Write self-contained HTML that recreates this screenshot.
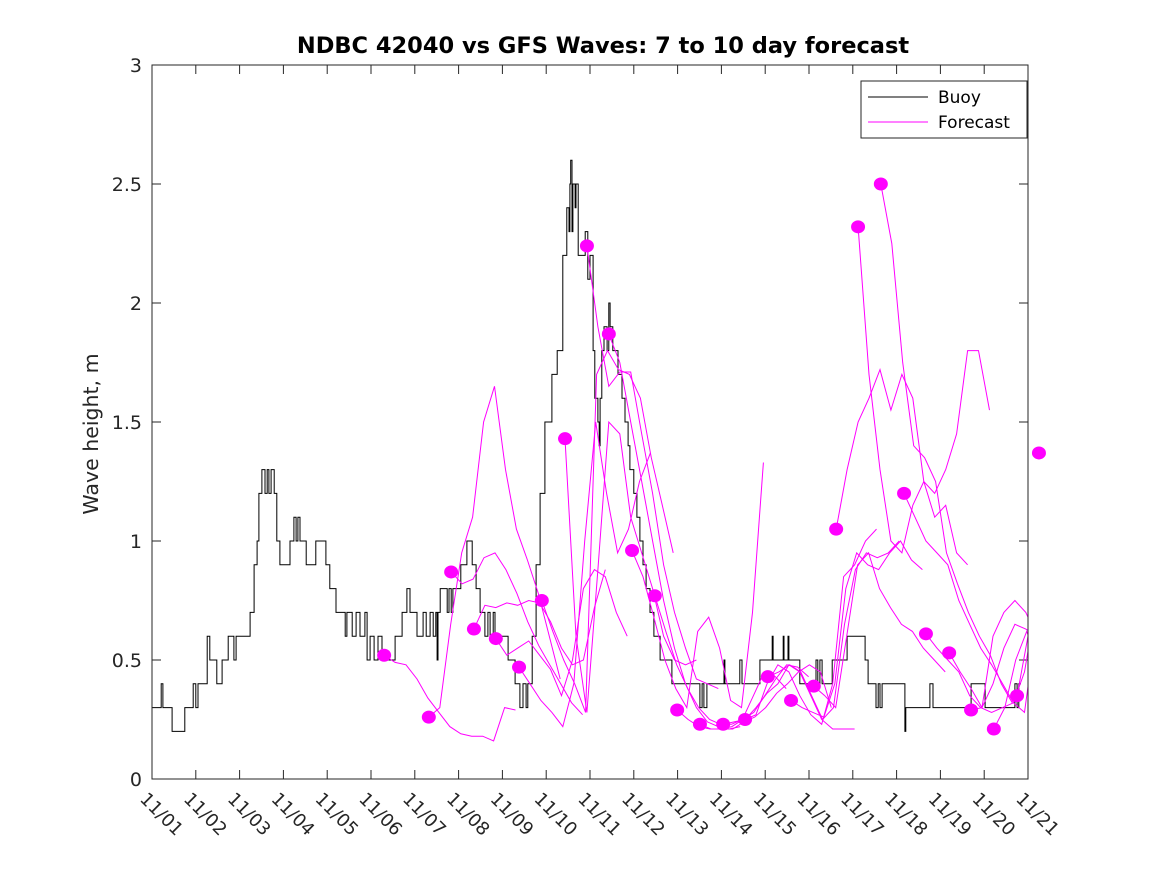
<!DOCTYPE html>
<html><head><meta charset="utf-8"><style>
body{margin:0;background:#fff}
svg{display:block;font-family:"DejaVu Sans","Liberation Sans",sans-serif}
</style></head><body>
<svg id="chart" width="1167" height="875" viewBox="0 0 1167 875" xmlns="http://www.w3.org/2000/svg">
<defs><clipPath id="plotclip"><rect x="152" y="65" width="876" height="714"/></clipPath></defs>
<rect x="0" y="0" width="1167" height="875" fill="#fff"/>
<text x="603" y="53" text-anchor="middle" font-size="22.5" font-weight="bold" fill="#000">NDBC 42040 vs GFS Waves: 7 to 10 day forecast</text>
<text x="0" y="0" transform="translate(98,434) rotate(-90)" text-anchor="middle" font-size="20.5" fill="#262626">Wave height, m</text>
<g id="axes"></g>
<g id="series" clip-path="url(#plotclip)"></g>
<g id="dots"></g>
<rect x="152" y="65" width="876" height="714" fill="none" stroke="#262626" stroke-width="1"/>
<g>
<rect x="861" y="81" width="166" height="57" fill="#fff" stroke="#262626" stroke-width="1"/>
<line x1="868" y1="97" x2="928" y2="97" stroke="#000" stroke-width="1"/>
<text x="938" y="103" font-size="17" fill="#000">Buoy</text>
<line x1="868" y1="122" x2="928" y2="122" stroke="#ff00ff" stroke-width="1"/>
<text x="938" y="128" font-size="17" fill="#000">Forecast</text>
</g>
</svg>
<script>
const xTickLabels=["11/01","11/02","11/03","11/04","11/05","11/06","11/07","11/08","11/09","11/10","11/11","11/12","11/13","11/14","11/15","11/16","11/17","11/18","11/19","11/20","11/21"];
const yTickValues=[0,0.5,1,1.5,2,2.5,3];
const yTickLabels=["0","0.5","1","1.5","2","2.5","3"];
const buoyDays=[0,0.21,0.25,0.46,0.75,0.94,1.0,1.05,1.26,1.32,1.48,1.6,1.74,1.87,1.92,2.24,2.33,2.40,2.44,2.51,2.58,2.63,2.67,2.72,2.79,2.85,2.92,3.15,3.24,3.29,3.33,3.38,3.52,3.74,3.97,4.06,4.20,4.41,4.45,4.57,4.66,4.75,4.86,4.91,4.98,5.07,5.16,5.25,5.55,5.71,5.82,5.89,6.05,6.19,6.26,6.35,6.42,6.48,6.51,6.53,6.58,6.74,6.78,6.83,6.87,7.05,7.19,7.31,7.40,7.49,7.60,7.67,7.72,7.79,7.83,8.13,8.29,8.40,8.47,8.54,8.58,8.68,8.77,8.86,8.97,9.13,9.25,9.38,9.47,9.52,9.54,9.56,9.59,9.61,9.66,9.68,9.73,9.89,9.95,10.0,10.07,10.11,10.18,10.21,10.23,10.27,10.32,10.39,10.43,10.46,10.52,10.64,10.73,10.80,10.87,10.91,11.0,11.07,11.14,11.21,11.28,11.37,11.46,11.60,11.87,12.51,12.56,12.60,12.67,13.06,13.08,13.42,13.47,13.88,14.16,14.18,14.41,14.43,14.52,14.54,14.79,15.16,15.2,15.25,15.3,15.53,15.87,16.28,16.35,16.53,16.58,16.62,16.67,17.19,17.21,17.76,17.83,18.70,19.02,19.70,19.75,19.79,19.84];
const buoyVals=[0.3,0.4,0.3,0.2,0.3,0.4,0.3,0.4,0.6,0.5,0.4,0.5,0.6,0.5,0.6,0.7,0.9,1.0,1.2,1.3,1.2,1.3,1.2,1.3,1.2,1.0,0.9,1.0,1.1,1.0,1.1,1.0,0.9,1.0,0.9,0.8,0.7,0.6,0.7,0.6,0.7,0.6,0.7,0.5,0.6,0.5,0.6,0.5,0.6,0.7,0.8,0.7,0.6,0.7,0.6,0.7,0.6,0.7,0.5,0.7,0.8,0.7,0.8,0.7,0.8,0.9,1.0,0.9,0.8,0.7,0.6,0.7,0.6,0.7,0.6,0.5,0.4,0.3,0.4,0.3,0.4,0.6,0.9,1.2,1.5,1.7,1.8,2.2,2.4,2.3,2.5,2.6,2.3,2.5,2.4,2.5,2.2,2.3,2.1,2.2,1.8,1.6,1.5,1.4,1.6,1.8,1.9,1.8,2.0,1.9,1.8,1.7,1.6,1.5,1.4,1.3,1.2,1.1,1.0,0.9,0.8,0.7,0.6,0.5,0.4,0.3,0.4,0.3,0.4,0.5,0.4,0.5,0.4,0.5,0.6,0.5,0.6,0.5,0.6,0.5,0.4,0.5,0.4,0.5,0.4,0.5,0.6,0.5,0.4,0.3,0.4,0.3,0.4,0.2,0.3,0.4,0.3,0.4,0.3,0.4,0.3,0.4,0.4];
const forecastStarts=[5.30,6.32,6.83,7.35,7.85,8.38,8.90,9.43,9.93,10.43,10.96,11.48,11.99,12.51,13.04,13.54,14.06,14.59,15.11,15.62,16.12,16.64,17.17,17.67,18.20,18.70,19.22,19.75,20.25];
const forecastStep=0.25;
const forecastVals=[
[0.52,0.49,0.48,0.42,0.34,0.28,0.22,0.19,0.18,0.18,0.16,0.30,0.29],
[0.26,0.30,0.65,0.95,1.10,1.50,1.65,1.30,1.05,0.92,0.78,0.60,0.42],
[0.87,0.82,0.84,0.93,0.95,0.88,0.78,0.66,0.56,0.48,0.40,0.32,0.27],
[0.63,0.73,0.72,0.74,0.73,0.75,0.74,0.66,0.55,0.48,0.50,0.72,0.88],
[0.59,0.52,0.55,0.58,0.52,0.46,0.35,0.50,0.80,0.88,0.85,0.70,0.60],
[0.47,0.40,0.33,0.28,0.22,0.40,1.00,1.50,1.20,0.95,1.05,1.25,1.37],
[0.75,0.62,0.50,0.40,0.28,1.70,1.80,1.72,1.70,1.60,1.35,1.15,0.95],
[1.43,0.60,0.28,0.88,1.50,1.45,1.10,0.95,0.80,0.60,0.50,0.48,0.50],
[2.24,1.90,1.65,1.71,1.71,1.45,1.20,0.90,0.70,0.55,0.42,0.40,0.38],
[1.87,1.75,1.50,1.25,1.00,0.75,0.55,0.40,0.30,0.24,0.22,0.21,0.22],
[0.96,0.85,0.68,0.50,0.38,0.30,0.62,0.68,0.55,0.33,0.30,0.70,1.33],
[0.77,0.62,0.48,0.38,0.30,0.25,0.23,0.23,0.25,0.35,0.45,0.43,0.38],
[0.29,0.25,0.22,0.21,0.21,0.22,0.25,0.28,0.35,0.42,0.48,0.47,0.43],
[0.23,0.21,0.21,0.21,0.24,0.26,0.30,0.36,0.40,0.45,0.48,0.45,0.30],
[0.23,0.24,0.25,0.30,0.36,0.40,0.48,0.45,0.35,0.25,0.21,0.21,0.21],
[0.25,0.27,0.40,0.48,0.45,0.35,0.27,0.23,0.40,0.85,0.90,1.00,1.05],
[0.43,0.45,0.48,0.45,0.35,0.25,0.30,0.65,0.88,0.95,0.93,0.95,1.00],
[0.33,0.30,0.28,0.26,0.40,0.80,0.95,0.90,0.88,0.95,1.00,0.92,0.88],
[0.39,0.35,0.30,0.60,0.90,0.95,0.80,0.72,0.65,0.62,0.55,0.50,0.45],
[1.05,1.30,1.50,1.60,1.72,1.55,1.70,1.60,1.25,1.10,1.15,0.95,0.90],
[2.32,1.70,1.30,1.00,0.95,1.15,1.25,1.20,1.30,1.45,1.80,1.80,1.55],
[2.50,2.25,1.75,1.40,1.35,1.25,0.95,0.82,0.70,0.60,0.52,0.40,0.32],
[1.20,1.10,1.00,0.95,0.90,0.75,0.65,0.55,0.48,0.40,0.32,0.28,0.62],
[0.61,0.55,0.50,0.45,0.35,0.30,0.28,0.30,0.32,0.45,0.72,0.82,0.80],
[0.53,0.45,0.38,0.30,0.60,0.70,0.75,0.70,0.60,0.50,0.45,0.60,0.85],
[0.29,0.30,0.40,0.55,0.65,0.63,0.60,0.40,0.25,0.20,0.35,0.60,0.80],
[0.21,0.30,0.50,0.62,0.50,0.30,0.20,0.18,0.50,0.85,0.90,0.90,0.90],
[0.35,0.60,1.55,1.67,1.66,1.60,1.50],
[1.37,1.40]
];

const NS="http://www.w3.org/2000/svg";
const X0=152,X1=1028,Y0=779,Y1=65;
function xs(d){return X0+(d/20)*(X1-X0);}
function ys(v){return Y0-(v/3)*(Y0-Y1);}
function mk(tag,attrs,parent){const e=document.createElementNS(NS,tag);for(const k in attrs)e.setAttribute(k,attrs[k]);parent.appendChild(e);return e;}
const axes=document.getElementById('axes');
const series=document.getElementById('series');
const dots=document.getElementById('dots');

yTickValues.forEach((v,i)=>{
  const y=ys(v);
  const t1=mk('line',{x1:X0,y1:y,x2:X0+9,y2:y,stroke:'#262626'},axes);
  
  
  const t2=mk('line',{x1:X1,y1:y,x2:X1-9,y2:y,stroke:'#262626'},axes);
  
  
  const tx=mk('text',{x:X0-10,y:y+7,'text-anchor':'end','font-size':'19',fill:'#262626'},axes);
  tx.textContent=yTickLabels[i];
  
  
});
xTickLabels.forEach((lab,i)=>{
  const x=xs(i);
  const t1=mk('line',{x1:x,y1:Y0,x2:x,y2:Y0-9,stroke:'#262626'},axes);
  
  
  const t2=mk('line',{x1:x,y1:Y1,x2:x,y2:Y1+9,stroke:'#262626'},axes);
  
  
  const tx=mk('text',{x:0,y:0,transform:`translate(${x-13},${Y0+21}) rotate(45)`,'font-size':'18',fill:'#262626'},axes);
  tx.textContent=lab;
  
  
});
forecastStarts.forEach((s,i)=>{
  const vals=forecastVals[i];
  const pts=vals.map((v,j)=>xs(s+j*forecastStep).toFixed(1)+','+ys(v).toFixed(1)).join(' ');
  const pl=mk('polyline',{points:pts,fill:'none',stroke:'#ff00ff','stroke-width':'1'},series);
  
  
  const c=mk('ellipse',{cx:xs(s),cy:ys(vals[0]),rx:7,ry:6.5,fill:'#ff00ff'},dots);
  
  
});
let d='M'+xs(buoyDays[0]).toFixed(1)+','+ys(buoyVals[0]).toFixed(1);
for(let i=1;i<buoyDays.length;i++){
  const x=xs(buoyDays[i]).toFixed(1);
  d+=' L'+x+','+ys(buoyVals[i-1]).toFixed(1)+' L'+x+','+ys(buoyVals[i]).toFixed(1);
}
const bl=mk('path',{d:d,fill:'none',stroke:'#000','stroke-width':'1'},series);


series.insertBefore(bl,series.firstChild);
</script>
</body></html>
